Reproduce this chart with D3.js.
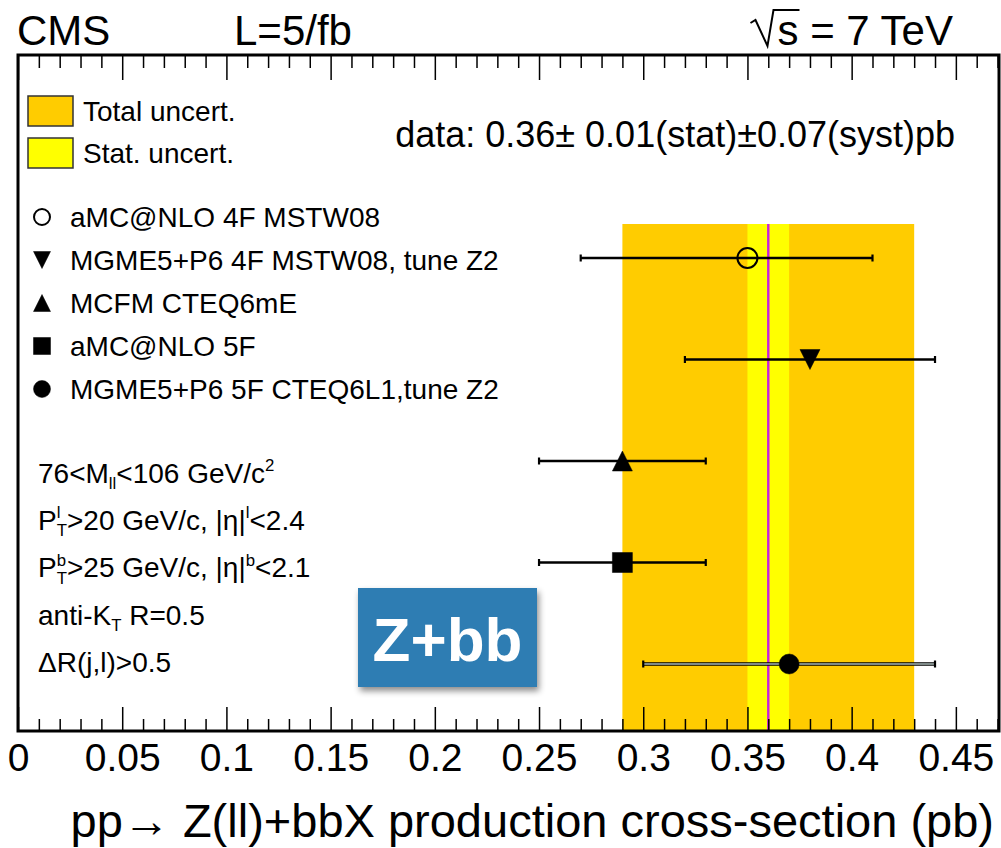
<!DOCTYPE html>
<html>
<head>
<meta charset="utf-8">
<script src="https://cdn.jsdelivr.net/npm/d3@7"></script>
<style>
  html, body { margin: 0; padding: 0; background: #fff; }
  svg { display: block; }
  text { font-family: "Liberation Sans", Arial, Helvetica, sans-serif; white-space: pre; }
</style>
</head>
<body>
<svg id="chart" width="1001" height="848"></svg>
<script>
// ---- data ----
const models = [
  "aMC@NLO 4F MSTW08",
  "MGME5+P6 4F MSTW08, tune Z2",
  "MCFM CTEQ6mE",
  "aMC@NLO 5F",
  "MGME5+P6 5F CTEQ6L1,tune Z2"
];
const markerTypes = ["openCircle", "downTriangle", "upTriangle", "square", "filledCircle"];
const predCentral = [0.35, 0.38, 0.29, 0.29, 0.37];
const predLow     = [0.27, 0.32, 0.25, 0.25, 0.30];
const predHigh    = [0.41, 0.44, 0.33, 0.33, 0.44];

const measured = 0.36;
const statErr = 0.01;
const systErr = 0.07;

const majorTicks = [0, 0.05, 0.1, 0.15, 0.2, 0.25, 0.3, 0.35, 0.4, 0.45];
const majorTickLabels = ["0", "0.05", "0.1", "0.15", "0.2", "0.25", "0.3", "0.35", "0.4", "0.45"];
const minorTicks = d3.range(0, 48).map(i => i / 100).filter(v => Math.round(v * 100) % 5 !== 0);

// ---- layout ----
const frame = { left: 18, right: 999, top: 55, bottom: 731 };

const svg = d3.select("#chart");

const defs = svg.append("defs");
const shadow = defs.append("filter").attr("id", "boxShadow")
  .attr("x", "-20%").attr("y", "-20%").attr("width", "150%").attr("height", "150%");
shadow.append("feDropShadow").attr("dx", 2).attr("dy", 4).attr("stdDeviation", 3)
  .attr("flood-color", "#000").attr("flood-opacity", 0.45);

const x = d3.scaleLinear().domain([0, 0.4707]).range([frame.left, frame.right]);
// rows: prediction index, top of the plot at -2
const y = d3.scaleLinear().domain([-2, 4.66]).range([frame.top, frame.bottom]);
const bandTop = y(-0.335);

// ---- measurement bands ----
const bands = svg.append("g");
bands.append("rect")
  .attr("x", x(measured - systErr)).attr("width", x(measured + systErr) - x(measured - systErr))
  .attr("y", bandTop).attr("height", frame.bottom - bandTop)
  .attr("fill", "#ffcc00");
bands.append("rect")
  .attr("x", x(measured - statErr)).attr("width", x(measured + statErr) - x(measured - statErr))
  .attr("y", bandTop).attr("height", frame.bottom - bandTop)
  .attr("fill", "#ffff00");
bands.append("line")
  .attr("x1", x(measured)).attr("x2", x(measured))
  .attr("y1", bandTop).attr("y2", frame.bottom)
  .attr("stroke", "#c81ee0").attr("stroke-width", 2.4);

// ---- axes ----
function styleAxis(g) {
  g.select(".domain").remove();
  g.selectAll(".tick line").attr("stroke", "#000").attr("stroke-width", 1.5);
}
svg.append("g").attr("transform", `translate(0,${frame.top})`)
  .call(d3.axisTop(x).tickValues(majorTicks).tickSize(-25).tickFormat(""))
  .call(styleAxis);
svg.append("g").attr("transform", `translate(0,${frame.top})`)
  .call(d3.axisTop(x).tickValues(minorTicks).tickSize(-13).tickFormat(""))
  .call(styleAxis);
svg.append("g").attr("transform", `translate(0,${frame.bottom})`)
  .call(d3.axisBottom(x).tickValues(minorTicks).tickSize(-12).tickFormat(""))
  .call(styleAxis);
const bottomAxis = svg.append("g").attr("transform", `translate(0,${frame.bottom})`)
  .call(d3.axisBottom(x).tickValues(majorTicks).tickSize(-24).tickPadding(12)
    .tickFormat((d, i) => majorTickLabels[i]))
  .call(styleAxis);
bottomAxis.selectAll(".tick text")
  .attr("font-size", 39).attr("fill", "#000")
  .style("font-family", '"Liberation Sans", Arial, Helvetica, sans-serif');

// ---- frame ----
svg.append("rect")
  .attr("x", frame.left).attr("y", frame.top)
  .attr("width", frame.right - frame.left).attr("height", frame.bottom - frame.top)
  .attr("fill", "none").attr("stroke", "#000").attr("stroke-width", 3);

// ---- marker shapes ----
function markerPath(type, s) {
  const h = s / 2;
  switch (type) {
    case "downTriangle": return `M${-h},${-h}L${h},${-h}L0,${h}Z`;
    case "upTriangle":   return `M${-h},${h}L${h},${h}L0,${-h}Z`;
    case "square":       return `M${-h},${-h}H${h}V${h}H${-h}Z`;
    default:             return d3.symbol(d3.symbolCircle, Math.PI * h * h)();
  }
}
function drawMarker(g, type, cx, cy, size) {
  g.append("path")
    .attr("d", markerPath(type, size))
    .attr("transform", `translate(${cx},${cy})`)
    .attr("fill", type === "openCircle" ? "none" : "#000")
    .attr("stroke", "#000")
    .attr("stroke-width", type === "openCircle" ? 2 : 0.5);
}

// ---- predictions ----
const preds = svg.append("g");
models.forEach((m, i) => {
  const cy = y(i);
  const g = preds.append("g");
  const last = markerTypes[i] === "filledCircle";
  g.append("line")
    .attr("x1", x(predLow[i])).attr("x2", x(predHigh[i]))
    .attr("y1", cy).attr("y2", cy)
    .attr("stroke", "#000").attr("stroke-width", last ? 3.5 : 2.6);
  if (last) {
    g.append("line")
      .attr("x1", x(predLow[i])).attr("x2", x(predHigh[i]))
      .attr("y1", cy).attr("y2", cy)
      .attr("stroke", "#a9b9b6").attr("stroke-width", 1.3);
  }
  [predLow[i], predHigh[i]].forEach(v => {
    g.append("line")
      .attr("x1", x(v)).attr("x2", x(v))
      .attr("y1", cy - 3.5).attr("y2", cy + 3.5)
      .attr("stroke", "#000").attr("stroke-width", 2.2);
  });
  drawMarker(g, markerTypes[i], x(predCentral[i]), cy, 20);
});

// ---- header ----
const hdr = svg.append("g").attr("fill", "#000");
hdr.append("text").attr("x", 17).attr("y", 45).attr("font-size", 42).text("CMS");
hdr.append("text").attr("x", 234).attr("y", 45).attr("font-size", 42).text("L=5/fb");
const energy = hdr.append("text").attr("x", 953).attr("y", 45).attr("font-size", 42)
  .attr("text-anchor", "end").text("s = 7 TeV");
{
  // radical sign over the "s"
  const node = energy.node();
  const startX = 953 - node.getComputedTextLength();
  const sW = node.getSubStringLength(0, 1);
  const r0 = startX - 27;
  hdr.append("path")
    .attr("d", `M${r0},${23}L${r0 + 5},${20}L${r0 + 17},${46}L${r0 + 23},${10}L${startX + sW + 1},${10}`)
    .attr("fill", "none").attr("stroke", "#000").attr("stroke-width", 2)
    .attr("stroke-linejoin", "miter");
}

// ---- uncertainty legend ----
const unc = svg.append("g");
[["Total uncert.", "#ffcc00", 96], ["Stat. uncert.", "#ffff00", 138]].forEach(([lab, col, top]) => {
  unc.append("rect").attr("x", 28).attr("y", top).attr("width", 45).attr("height", 30)
    .attr("fill", col).attr("stroke", "#333").attr("stroke-width", 1.5);
  unc.append("text").attr("x", 83).attr("y", top + 25).attr("font-size", 28).text(lab);
});
unc.append("text").attr("x", 955).attr("y", 147).attr("font-size", 36)
  .attr("text-anchor", "end")
  .text(`data: ${measured}\u00b1 ${statErr}(stat)\u00b1${systErr}(syst)pb`);

// ---- prediction legend ----
const leg = svg.append("g");
models.forEach((m, i) => {
  const cy = 217 + i * 43;
  drawMarker(leg, markerTypes[i], 42, cy, markerTypes[i] === "openCircle" ? 16 : 17);
  leg.append("text").attr("x", 70).attr("y", cy + 10).attr("font-size", 28).text(m);
});

// ---- selection cuts ----
function richText(g, x0, yb, segs, base) {
  let prevStart = x0, end = x0;
  segs.forEach(s => {
    const size = base * (s.scale || 1);
    const sx = s.stack ? prevStart : end;
    const t = g.append("text").attr("x", sx).attr("y", yb + (s.dy || 0) * base)
      .attr("font-size", size).text(s.t);
    const w = t.node().getComputedTextLength();
    prevStart = sx;
    end = Math.max(s.stack ? end : sx, sx + w);
  });
}
const sub = t => ({ t, scale: 0.6, dy: 0.22 });
const sup = t => ({ t, scale: 0.6, dy: -0.42 });
const cuts = [
  [{ t: "76<M" }, sub("ll"), { t: "<106 GeV/c" }, sup("2")],
  [{ t: "P" }, sup("l"), Object.assign(sub("T"), { stack: true }), { t: ">20 GeV/c, |\u03b7|" }, sup("l"), { t: "<2.4" }],
  [{ t: "P" }, sup("b"), Object.assign(sub("T"), { stack: true }), { t: ">25 GeV/c, |\u03b7|" }, sup("b"), { t: "<2.1" }],
  [{ t: "anti-K" }, sub("T"), { t: " R=0.5" }],
  [{ t: "\u0394R(j,l)>0.5" }]
];
const cutG = svg.append("g");
cuts.forEach((segs, i) => richText(cutG, 38, 483 + i * 47.2, segs, 28));

// ---- process badge ----
const badge = svg.append("g");
badge.append("rect").attr("x", 358).attr("y", 588).attr("width", 179).attr("height", 99)
  .attr("fill", "#2f7db3").attr("filter", "url(#boxShadow)");
badge.append("text").attr("x", 447.5).attr("y", 661).attr("font-size", 62)
  .attr("font-weight", "bold").attr("fill", "#fff").attr("text-anchor", "middle").text("Z+bb");

// ---- x-axis title ----
svg.append("text").attr("x", 994).attr("y", 837).attr("font-size", 47)
  .attr("text-anchor", "end")
  .text("pp\u2192 Z(ll)+bbX production cross-section (pb)");
</script>
</body>
</html>
